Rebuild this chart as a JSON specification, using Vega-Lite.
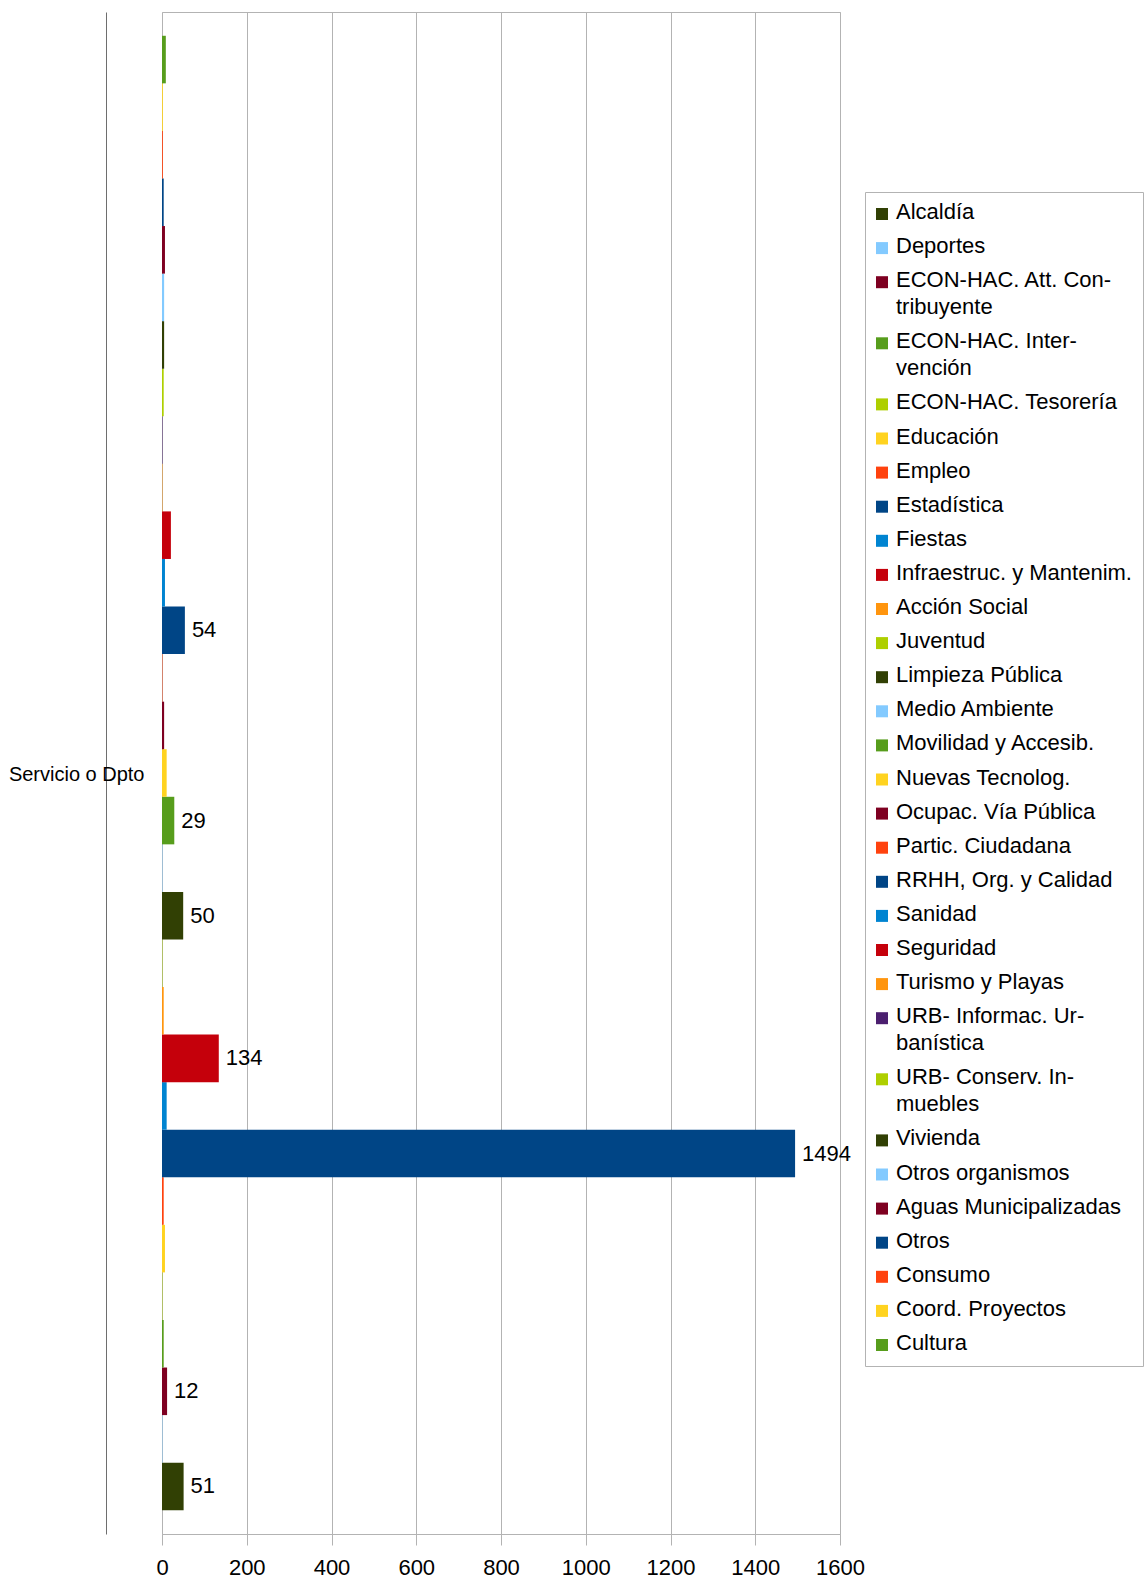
{
  "$schema": "https://vega.github.io/schema/vega-lite/v6.json",
  "autosize": {"type": "none"},
  "padding": {"left": 162, "top": 12, "right": 304, "bottom": 48},
  "width": 678,
  "height": 1522,
  "background": "white",
  "config": {"font": "Liberation Sans", "view": {"stroke": "#b3b3b3"}},
  "data": {"values": [
    {"servicio": "Alcaldía", "valor": 51},
    {"servicio": "Deportes", "valor": 1},
    {"servicio": "ECON-HAC. Att. Contribuyente", "valor": 12},
    {"servicio": "ECON-HAC. Intervención", "valor": 4},
    {"servicio": "ECON-HAC. Tesorería", "valor": 1},
    {"servicio": "Educación", "valor": 7},
    {"servicio": "Empleo", "valor": 4},
    {"servicio": "Estadística", "valor": 1494},
    {"servicio": "Fiestas", "valor": 11},
    {"servicio": "Infraestruc. y Mantenim.", "valor": 134},
    {"servicio": "Acción Social", "valor": 4},
    {"servicio": "Juventud", "valor": 1},
    {"servicio": "Limpieza Pública", "valor": 50},
    {"servicio": "Medio Ambiente", "valor": 1},
    {"servicio": "Movilidad y Accesib.", "valor": 29},
    {"servicio": "Nuevas Tecnolog.", "valor": 11},
    {"servicio": "Ocupac. Vía Pública", "valor": 5},
    {"servicio": "Partic. Ciudadana", "valor": 1},
    {"servicio": "RRHH, Org. y Calidad", "valor": 54},
    {"servicio": "Sanidad", "valor": 7},
    {"servicio": "Seguridad", "valor": 21},
    {"servicio": "Turismo y Playas", "valor": 1},
    {"servicio": "URB- Informac. Urbanística", "valor": 1},
    {"servicio": "URB- Conserv. Inmuebles", "valor": 4},
    {"servicio": "Vivienda", "valor": 5},
    {"servicio": "Otros organismos", "valor": 5},
    {"servicio": "Aguas Municipalizadas", "valor": 7},
    {"servicio": "Otros", "valor": 4},
    {"servicio": "Consumo", "valor": 2},
    {"servicio": "Coord. Proyectos", "valor": 2},
    {"servicio": "Cultura", "valor": 9}
  ]},
  "layer": [
    {
      "mark": {"type": "bar"},
      "encoding": {
        "y": {
          "field": "servicio", "type": "nominal",
          "sort": ["Cultura", "Coord. Proyectos", "Consumo", "Otros", "Aguas Municipalizadas", "Otros organismos", "Vivienda", "URB- Conserv. Inmuebles", "URB- Informac. Urbanística", "Turismo y Playas", "Seguridad", "Sanidad", "RRHH, Org. y Calidad", "Partic. Ciudadana", "Ocupac. Vía Pública", "Nuevas Tecnolog.", "Movilidad y Accesib.", "Medio Ambiente", "Limpieza Pública", "Juventud", "Acción Social", "Infraestruc. y Mantenim.", "Fiestas", "Estadística", "Empleo", "Educación", "ECON-HAC. Tesorería", "ECON-HAC. Intervención", "ECON-HAC. Att. Contribuyente", "Deportes", "Alcaldía"],
          "scale": {"paddingInner": 0, "paddingOuter": 0.5},
          "axis": {
            "labels": false, "ticks": false, "grid": false, "domain": true,
            "domainColor": "#6e6e6e", "offset": 56,
            "title": "Servicio o Dpto", "titleAngle": 0, "titleAlign": "right",
            "titleBaseline": "middle", "titleX": 38, "titleY": 762,
            "titleFontSize": 20, "titleFontWeight": "normal", "titleColor": "black",
            "titleFont": "Liberation Sans"
          }
        },
        "x": {
          "field": "valor", "type": "quantitative",
          "scale": {"domain": [0, 1600], "nice": false},
          "axis": {
            "values": [0, 200, 400, 600, 800, 1000, 1200, 1400, 1600],
            "format": "d",
            "grid": true, "gridColor": "#b3b3b3", "domainColor": "#b3b3b3",
            "tickColor": "#b3b3b3", "tickSize": 11, "labelFontSize": 22,
            "labelColor": "black", "labelPadding": 12, "labelFlush": false,
            "labelOverlap": false, "title": null, "labelFont": "Liberation Sans"
          }
        },
        "color": {
          "field": "servicio", "type": "nominal",
          "scale": {
            "domain": ["Alcaldía", "Deportes", "ECON-HAC. Att. Contribuyente", "ECON-HAC. Intervención", "ECON-HAC. Tesorería", "Educación", "Empleo", "Estadística", "Fiestas", "Infraestruc. y Mantenim.", "Acción Social", "Juventud", "Limpieza Pública", "Medio Ambiente", "Movilidad y Accesib.", "Nuevas Tecnolog.", "Ocupac. Vía Pública", "Partic. Ciudadana", "RRHH, Org. y Calidad", "Sanidad", "Seguridad", "Turismo y Playas", "URB- Informac. Urbanística", "URB- Conserv. Inmuebles", "Vivienda", "Otros organismos", "Aguas Municipalizadas", "Otros", "Consumo", "Coord. Proyectos", "Cultura"],
            "range": ["#314004", "#83caff", "#7e0021", "#579d1c", "#aecf00", "#ffd320", "#ff420e", "#004586", "#0084d1", "#c5000b", "#ff950e", "#aecf00", "#314004", "#83caff", "#579d1c", "#ffd320", "#7e0021", "#ff420e", "#004586", "#0084d1", "#c5000b", "#ff950e", "#4b1f6f", "#aecf00", "#314004", "#83caff", "#7e0021", "#004586", "#ff420e", "#ffd320", "#579d1c"]
          },
          "legend": {
            "orient": "none", "legendX": 703, "legendY": 180, "title": null,
            "symbolLimit": 0,
            "symbolType": "square", "symbolSize": 144, "symbolStrokeWidth": 0,
            "labelFontSize": 22, "labelColor": "black", "labelLimit": 400,
            "labelOffset": 8, "rowPadding": 12.1, "padding": 11,
            "strokeColor": "#b3b3b3", "fillColor": "white",
            "labelBaseline": "top", "labelFont": "Liberation Sans",
            "labelExpr": "datum.label == 'ECON-HAC. Att. Contribuyente' ? ['ECON-HAC. Att. Con-', 'tribuyente'] : datum.label == 'ECON-HAC. Intervención' ? ['ECON-HAC. Inter-', 'vención'] : datum.label == 'URB- Informac. Urbanística' ? ['URB- Informac. Ur-', 'banística'] : datum.label == 'URB- Conserv. Inmuebles' ? ['URB- Conserv. In-', 'muebles'] : datum.label",
            "encode": {
              "labels": {"update": {"lineHeight": {"value": 27}, "dy": {"value": -12}, "x": {"value": 20}}},
              "symbols": {"update": {"x": {"value": 6}}}
            }
          }
        }
      }
    },
    {
      "transform": [{"filter": {"field": "servicio", "oneOf": ["Alcaldía", "ECON-HAC. Att. Contribuyente", "Estadística", "Infraestruc. y Mantenim.", "Limpieza Pública", "Movilidad y Accesib.", "RRHH, Org. y Calidad"]}}],
      "mark": {"type": "text", "align": "left", "baseline": "middle", "dx": 7, "fontSize": 22, "color": "black", "font": "Liberation Sans"},
      "encoding": {
        "y": {
          "field": "servicio", "type": "nominal",
          "sort": ["Cultura", "Coord. Proyectos", "Consumo", "Otros", "Aguas Municipalizadas", "Otros organismos", "Vivienda", "URB- Conserv. Inmuebles", "URB- Informac. Urbanística", "Turismo y Playas", "Seguridad", "Sanidad", "RRHH, Org. y Calidad", "Partic. Ciudadana", "Ocupac. Vía Pública", "Nuevas Tecnolog.", "Movilidad y Accesib.", "Medio Ambiente", "Limpieza Pública", "Juventud", "Acción Social", "Infraestruc. y Mantenim.", "Fiestas", "Estadística", "Empleo", "Educación", "ECON-HAC. Tesorería", "ECON-HAC. Intervención", "ECON-HAC. Att. Contribuyente", "Deportes", "Alcaldía"]
        },
        "x": {"field": "valor", "type": "quantitative"},
        "text": {"field": "valor", "type": "quantitative"}
      }
    }
  ]
}
